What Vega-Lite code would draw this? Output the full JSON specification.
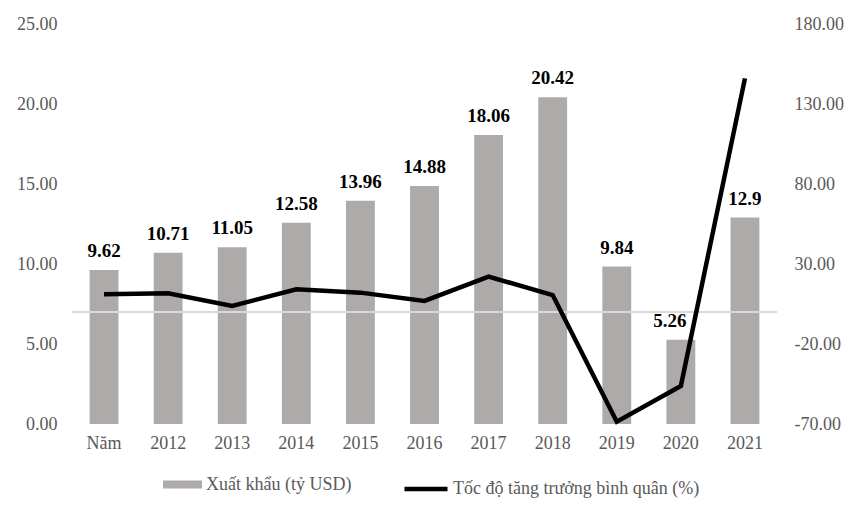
{
  "$schema": "https://vega.github.io/schema/vega-lite/v6.json",
  "width": 705,
  "height": 400,
  "autosize": {"type": "none"},
  "padding": {"left": 72, "top": 24, "right": 83, "bottom": 92},
  "background": "white",
  "config": {
    "view": {"stroke": null},
    "font": "Liberation Serif",
    "axis": {"labelFont": "Liberation Serif", "labelFontSize": 18, "labelColor": "#595959", "grid": false, "domain": false, "ticks": false, "title": null},
    "legend": {"labelFont": "Liberation Serif", "labelFontSize": 18, "labelColor": "#595959", "padding": 0, "title": null, "labelLimit": 400}
  },
  "data": {
    "values": [
      {"nam": "Năm", "xk": 9.62, "lbl": "9.62", "tt": 11.1},
      {"nam": "2012", "xk": 10.71, "lbl": "10.71", "tt": 11.7},
      {"nam": "2013", "xk": 11.05, "lbl": "11.05", "tt": 3.8},
      {"nam": "2014", "xk": 12.58, "lbl": "12.58", "tt": 14.2},
      {"nam": "2015", "xk": 13.96, "lbl": "13.96", "tt": 12.1},
      {"nam": "2016", "xk": 14.88, "lbl": "14.88", "tt": 6.9},
      {"nam": "2017", "xk": 18.06, "lbl": "18.06", "tt": 22.1},
      {"nam": "2018", "xk": 20.42, "lbl": "20.42", "tt": 10.6},
      {"nam": "2019", "xk": 9.84, "lbl": "9.84", "tt": -68.6},
      {"nam": "2020", "xk": 5.26, "lbl": "5.26", "tt": -46.2},
      {"nam": "2021", "xk": 12.9, "lbl": "12.9", "tt": 146}
    ]
  },
  "layer": [
    {
      "layer": [
        {
          "mark": {"type": "bar"},
          "encoding": {
            "x": {"field": "nam", "type": "ordinal", "sort": null, "scale": {"paddingInner": 0.55, "paddingOuter": 0.275}, "axis": {"labelAngle": 0, "labelPadding": 10}},
            "y": {"field": "xk", "type": "quantitative", "scale": {"domain": [0, 25], "nice": false}, "axis": {"values": [0, 5, 10, 15, 20, 25], "format": ".2f", "labelPadding": 15}},
            "fill": {"datum": "Xuất khẩu (tỷ USD)", "scale": {"range": ["#aeaaaa"]}, "legend": {"orient": "none", "legendX": 91, "legendY": 441, "symbolType": "M-1,-0.2H1V0.2H-1Z", "symbolSize": 1521, "symbolStrokeWidth": 0, "labelOffset": 4}}
          }
        },
        {
          "transform": [{"filter": "datum.nam != '2020'"}],
          "mark": {"type": "text", "fontWeight": "bold", "fontSize": 19, "color": "black", "baseline": "alphabetic", "dy": -13},
          "encoding": {
            "x": {"field": "nam", "type": "ordinal", "sort": null},
            "y": {"field": "xk", "type": "quantitative"},
            "text": {"field": "lbl"}
          }
        },
        {
          "transform": [{"filter": "datum.nam == '2020'"}],
          "mark": {"type": "text", "fontWeight": "bold", "fontSize": 19, "color": "black", "baseline": "alphabetic", "dy": -13, "dx": -11},
          "encoding": {
            "x": {"field": "nam", "type": "ordinal", "sort": null},
            "y": {"field": "xk", "type": "quantitative"},
            "text": {"field": "lbl"}
          }
        }
      ]
    },
    {
      "layer": [
        {
          "mark": {"type": "rule", "color": "#d9d9d9", "strokeWidth": 2},
          "encoding": {
            "y": {"datum": 0, "type": "quantitative", "scale": {"domain": [-70, 180], "nice": false}}
          }
        },
        {
          "mark": {"type": "line", "strokeWidth": 4.5, "strokeJoin": "miter"},
          "encoding": {
            "x": {"field": "nam", "type": "ordinal", "sort": null},
            "y": {"field": "tt", "type": "quantitative", "scale": {"domain": [-70, 180], "nice": false}, "axis": {"orient": "right", "values": [-70, -20, 30, 80, 130, 180], "labelExpr": "replace(format(datum.value, '.2f'), '\u2212', '-')", "labelPadding": 17}},
            "stroke": {"datum": "Tốc độ tăng trưởng bình quân (%)", "scale": {"range": ["#000000"]}, "legend": {"orient": "none", "legendX": 330, "legendY": 441, "symbolType": "stroke", "symbolSize": 1849, "symbolStrokeWidth": 4.5, "labelOffset": 3}}
          }
        }
      ]
    }
  ],
  "resolve": {"scale": {"y": "independent", "fill": "independent", "stroke": "independent"}}
}
